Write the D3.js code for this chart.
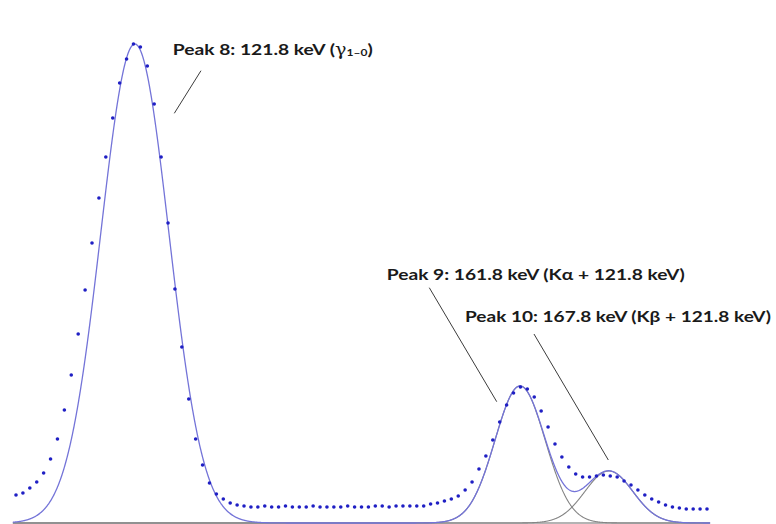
<!DOCTYPE html>
<html>
<head>
<meta charset="utf-8">
<script src="https://cdn.jsdelivr.net/npm/d3@7"></script>
<style>
  body { margin: 0; background: #fff; }
  svg { display: block; }
</style>
</head>
<body>
<script>
// measured counts per channel (channel 0..100)
const counts = [
  28, 30, 35, 41, 50, 64, 84, 113, 148, 189,
  233, 280, 325, 366, 405, 440, 464, 479, 476, 457,
  419, 366, 300, 234, 176, 124, 84, 58, 40, 29,
  24, 20, 18, 17, 16, 16, 17, 16, 16, 17,
  16, 16, 16, 17, 16, 16, 16, 16, 17, 16,
  16, 16, 17, 17, 16, 17, 17, 17, 17, 17,
  19, 20, 22, 24, 27, 33, 41, 54, 67, 83,
  101, 118, 130, 136, 134, 126, 112, 96, 79, 66,
  56, 49, 46, 46, 47, 48, 47, 46, 42, 38,
  33, 28, 24, 21, 18, 16, 15, 14, 14, 14,
  14
];
const channels = counts.map((c, i) => i);

// fitted peaks (centre channel, height in counts, sigma in channels)
const peakNames = ["Peak 8", "Peak 9", "Peak 10"];
const peakCentres = [17.2, 72.95, 85.8];
const peakHeights = [479, 137, 52];
const peakSigmas = [4.92, 3.62, 3.47];

// annotation text + leader lines, in data units [channel, counts]
const labelText = ["Peak 8: 121.8 keV (", "Peak 9: 161.8 keV (K\u03b1 + 121.8 keV)", "Peak 10: 167.8 keV (K\u03b2 + 121.8 keV)"];
const labelPos = [[22.68, 468], [53.65, 243], [64.98, 201.3]];
const labelWidth = [200, 298, 306];
const leaderFrom = [[26.77, 452.3], [59.81, 235.3], [74.96, 189]];
const leaderTo = [[22.91, 409.7], [69.57, 121.3], [85.72, 63]];

const width = 776, height = 524;

const svg = d3.select("body")
    .append("svg")
    .attr("width", width)
    .attr("height", height);

const x = d3.scaleLinear()
    .domain([0, 100])
    .range([16, 707]);
const y = d3.scaleLinear()
    .domain([0, 500])
    .range([523, 23]);

const gauss = (k, ch) => peakHeights[k] * Math.exp(-Math.pow(ch - peakCentres[k], 2) / (2 * peakSigmas[k] * peakSigmas[k]));

const grid = d3.range(-0.45, 100.46, 0.05);

// baseline
svg.append("line")
    .attr("x1", x(-0.45)).attr("x2", x(100.4))
    .attr("y1", y(0)).attr("y2", y(0))
    .attr("stroke", "#9a9a9a")
    .attr("stroke-width", 1.5);

const line = d3.line()
    .x(d => x(d[0]))
    .y(d => y(d[1]));

// single components for peaks 9 and 10 (grey)
[1, 2].forEach(k => {
    svg.append("path")
        .attr("d", line(grid.map(ch => [ch, gauss(k, ch)])))
        .attr("fill", "none")
        .attr("stroke", "#858585")
        .attr("stroke-width", 1.1);
});

// total fit (blue)
svg.append("path")
    .attr("d", line(grid.map(ch => [ch, gauss(0, ch) + gauss(1, ch) + gauss(2, ch)])))
    .attr("fill", "none")
    .attr("stroke", "#7474d8")
    .attr("stroke-width", 1.3);

// data points
svg.append("g")
    .selectAll("circle")
    .data(channels)
    .join("circle")
    .attr("cx", d => x(d))
    .attr("cy", d => y(counts[d]))
    .attr("r", 1.8)
    .attr("fill", "#1f1fc4");

// leader lines
svg.append("g")
    .selectAll("line")
    .data(peakNames)
    .join("line")
    .attr("x1", (d, i) => x(leaderFrom[i][0]))
    .attr("y1", (d, i) => y(leaderFrom[i][1]))
    .attr("x2", (d, i) => x(leaderTo[i][0]))
    .attr("y2", (d, i) => y(leaderTo[i][1]))
    .attr("stroke", "#3c3c3c")
    .attr("stroke-width", 1);

// labels
const labels = svg.append("g")
    .selectAll("text")
    .data(peakNames)
    .join("text")
    .attr("x", (d, i) => x(labelPos[i][0]))
    .attr("y", (d, i) => y(labelPos[i][1]))
    .attr("textLength", (d, i) => labelWidth[i])
    .attr("lengthAdjust", "spacingAndGlyphs")
    .style("font-family", "Lato, 'Open Sans', sans-serif")
    .style("font-weight", "700")
    .style("font-size", "16px")
    .attr("fill", "#1a1a1a")
    .text((d, i) => labelText[i]);

// gamma with subscript for peak 8
const l8 = labels.filter((d, i) => i === 0);
l8.append("tspan").text("\u03b3").style("font-family", "'DejaVu Serif', serif").style("font-weight", "400");
l8.append("tspan").text("1\u20130").style("font-size", "10px").attr("dy", 1);
l8.append("tspan").text(")").attr("dy", -1);
</script>
</body>
</html>
